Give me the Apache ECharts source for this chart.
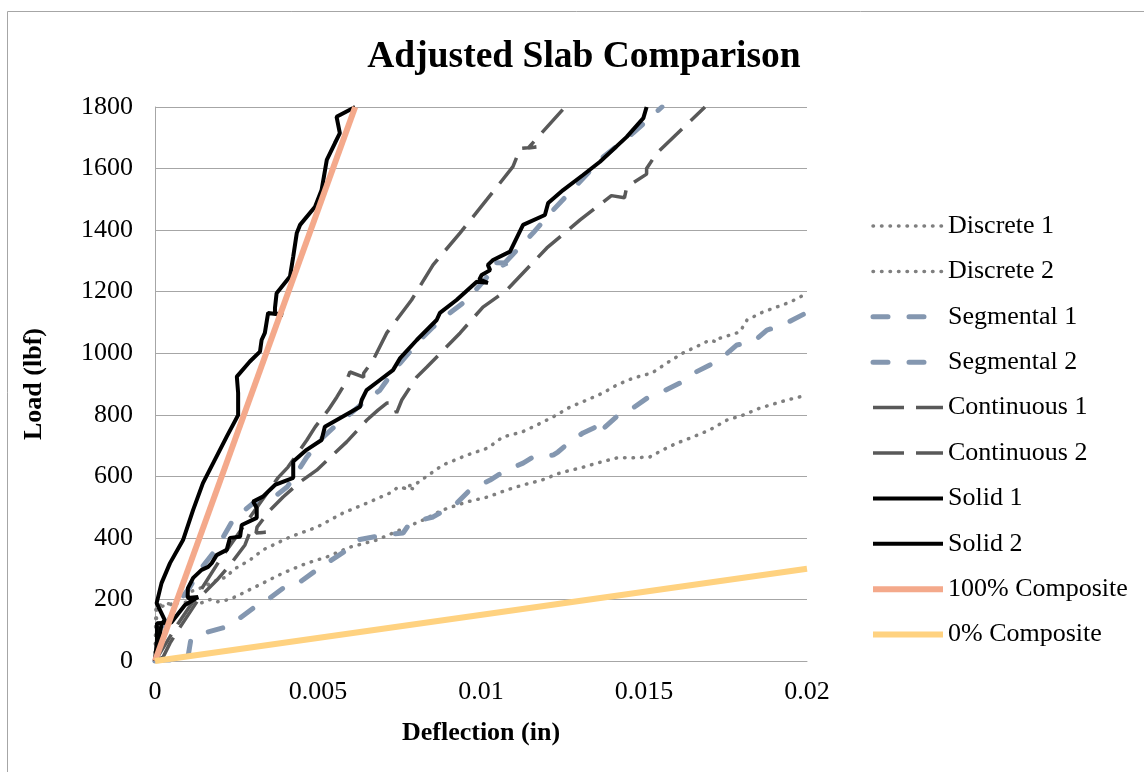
<!DOCTYPE html>
<html>
<head>
<meta charset="utf-8">
<script src="https://cdn.jsdelivr.net/npm/echarts@6/dist/echarts.min.js"></script>
<style>
html,body{margin:0;padding:0;background:#fff;}
#chart{width:1144px;height:772px;}
</style>
</head>
<body>
<div id="chart"></div>
<script>
// ---- data: [deflection (in), load (lbf)] ----
const seriesNames = ['Discrete 1','Discrete 2','Segmental 1','Segmental 2','Continuous 1','Continuous 2','Solid 1','Solid 2','100% Composite','0% Composite'];
const xTicks = [0, 0.005, 0.01, 0.015, 0.02];
const yTicks = [0, 200, 400, 600, 800, 1000, 1200, 1400, 1600, 1800];

const discrete1 = [[0,0],[0.00006,175],[0.00046,182],[0.00098,221],[0.00147,240],[0.0019,263],[0.0022,273],[0.00239,296],[0.00291,328],[0.00331,361],[0.00414,403],[0.00497,435],[0.00577,481],[0.0065,513],[0.00721,546],[0.00742,562],[0.0079,560],[0.0076,562],[0.00804,578],[0.00883,637],[0.00957,669],[0.01021,692],[0.01067,728],[0.01126,744],[0.01172,767],[0.01221,793],[0.01273,825],[0.01325,848],[0.01374,871],[0.01417,897],[0.01466,919],[0.01525,936],[0.0157,968],[0.0162,1001],[0.01672,1027],[0.01702,1043],[0.01724,1036],[0.01733,1049],[0.01794,1069],[0.01816,1108],[0.01865,1134],[0.01948,1166],[0.02003,1196]];

const discrete2 = [[0,0],[0.00003,180],[0.0004,186],[0.0009,190],[0.0012,196],[0.0014,188],[0.0017,200],[0.0019,192],[0.0022,198],[0.0025,210],[0.0027,221],[0.00331,253],[0.00393,286],[0.00466,318],[0.00527,338],[0.00598,370],[0.0068,393],[0.00752,426],[0.00822,458],[0.00883,491],[0.00957,517],[0.01021,533],[0.0108,556],[0.01129,572],[0.01187,588],[0.01242,611],[0.01304,627],[0.01356,643],[0.01417,660],[0.01466,660],[0.01518,663],[0.01558,686],[0.01601,708],[0.0165,728],[0.01702,751],[0.01755,783],[0.01804,799],[0.01856,822],[0.01939,848],[0.02,864]];

const segmental1 = [[0,0],[0.0003,3],[0.0010,5],[0.0011,70],[0.00147,90],[0.0022,111],[0.00252,133],[0.00322,188],[0.00353,205],[0.00414,253],[0.00445,257],[0.00496,296],[0.00589,361],[0.0062,393],[0.0070,409],[0.00761,416],[0.00782,448],[0.00853,468],[0.00926,513],[0.00966,556],[0.01028,588],[0.01067,614],[0.01129,643],[0.0116,663],[0.01221,669],[0.01236,679],[0.01273,712],[0.01313,741],[0.01365,767],[0.01386,745],[0.0138,760],[0.01417,795],[0.01466,822],[0.01509,854],[0.01549,871],[0.0161,903],[0.01641,929],[0.01702,962],[0.01742,988],[0.01785,1027],[0.01834,1036],[0.01877,1075],[0.01926,1092],[0.02003,1134]];

const segmental2 = [[0,0],[0.00015,78],[0.00037,123],[0.00077,198],[0.00107,240],[0.00138,296],[0.0019,367],[0.00239,458],[0.00301,513],[0.00353,523],[0.00405,565],[0.0042,588],[0.00466,663],[0.00506,718],[0.00546,757],[0.00638,838],[0.0069,880],[0.00712,913],[0.00752,968],[0.00813,1043],[0.00853,1085],[0.00905,1131],[0.00957,1173],[0.01037,1270],[0.0108,1293],[0.0103,1295],[0.0107,1290],[0.0116,1391],[0.01221,1465],[0.01279,1530],[0.01374,1637],[0.01466,1715],[0.01555,1800]];

const continuous1 = [[0,0],[0.0007,120],[0.0014,230],[0.0020,330],[0.0026,420],[0.0032,510],[0.00377,595],[0.00408,630],[0.00466,718],[0.00491,760],[0.00531,815],[0.00558,858],[0.00585,905],[0.00598,939],[0.0064,922],[0.0064,935],[0.00669,978],[0.00711,1066],[0.00787,1173],[0.00853,1287],[0.00936,1391],[0.01017,1498],[0.01098,1606],[0.0112,1665],[0.0117,1670],[0.01145,1667],[0.01258,1800]];

const continuous2 = [[0,0],[0.00025,13],[0.00046,58],[0.00077,110],[0.00138,208],[0.0019,263],[0.0023,312],[0.00276,377],[0.0029,415],[0.0034,418],[0.0031,416],[0.00313,435],[0.00353,490],[0.00393,533],[0.00445,582],[0.00496,620],[0.00588,712],[0.0065,783],[0.00684,815],[0.00711,838],[0.0073,838],[0.00741,806],[0.00757,848],[0.00803,923],[0.00834,955],[0.00936,1066],[0.01006,1150],[0.01079,1205],[0.01202,1342],[0.01304,1433],[0.0140,1512],[0.0144,1505],[0.01447,1540],[0.01508,1582],[0.01508,1600],[0.01539,1650],[0.01687,1800]];

const solid1 = [[0,0],[0.0001,50],[0.0002,120],[0.0003,133],[0.00005,188],[0.0002,253],[0.00046,318],[0.00086,393],[0.00117,491],[0.00147,578],[0.0022,729],[0.00255,799],[0.00255,871],[0.00251,924],[0.00291,973],[0.00322,1005],[0.00327,1043],[0.00337,1066],[0.00347,1131],[0.00393,1124],[0.00368,1130],[0.00368,1147],[0.00373,1195],[0.00414,1249],[0.00424,1314],[0.00435,1391],[0.00445,1417],[0.00491,1476],[0.00511,1530],[0.00527,1628],[0.00552,1683],[0.00567,1715],[0.00557,1768],[0.00614,1800]];

const solid2 = [[0,0],[0.00006,68],[0.00006,123],[0.0005,125],[0.00092,182],[0.00132,208],[0.0010,205],[0.00101,237],[0.00117,270],[0.00143,296],[0.00163,306],[0.00174,318],[0.00189,344],[0.0022,361],[0.0023,400],[0.00261,404],[0.00266,442],[0.00312,465],[0.00312,497],[0.00301,518],[0.00331,534],[0.00368,572],[0.00424,595],[0.00424,648],[0.00465,686],[0.00511,718],[0.00521,761],[0.00629,826],[0.00634,848],[0.00649,880],[0.0069,913],[0.0073,945],[0.00752,984],[0.00803,1043],[0.00864,1108],[0.00874,1131],[0.00925,1173],[0.00987,1232],[0.01021,1229],[0.00995,1240],[0.01002,1254],[0.01028,1270],[0.01021,1287],[0.01037,1303],[0.01089,1330],[0.01129,1417],[0.01196,1449],[0.01206,1488],[0.01252,1530],[0.01313,1579],[0.01365,1622],[0.01447,1703],[0.01498,1764],[0.01508,1800]];

const composite100 = [[0,0],[0.00614,1800]];
const composite0 = [[0,0],[0.02,300]];

const seriesData = [discrete1, discrete2, segmental1, segmental2, continuous1, continuous2, solid1, solid2, composite100, composite0];

// ---- styles ----
const FONT = 'Liberation Serif';
const dotted = {color:'#7F7F7F', width:3.5, type:[0.5,8], cap:'round'};
const seg = {color:'#8497B0', width:5, type:[15,21], cap:'round'};
const cont = {color:'#595959', width:3.5, type:[31,12], cap:'butt'};
const solid = {color:'#000000', width:4, type:'solid'};
const c100 = {color:'#F4A98B', width:6, type:'solid'};
const c0 = {color:'#FFD280', width:6, type:'solid'};
const styles = [dotted, dotted, seg, seg, cont, cont, solid, solid, c100, c0];

const chart = echarts.init(document.getElementById('chart'), null, {renderer:'canvas'});
chart.setOption({
  animation:false,
  backgroundColor:'#ffffff',
  graphic:[{type:'rect', shape:{x:7.5,y:11.5,width:1300,height:900}, style:{fill:'none', stroke:'#A6A6A6', lineWidth:1}, silent:true}],
  title:{
    text:'Adjusted Slab Comparison',
    left:579, top:33, textAlign:'center',
    textStyle:{fontFamily:FONT, fontSize:37.5, fontWeight:'bold', color:'#000'}
  },
  legend:{
    orient:'vertical', left:870, top:213, padding:0,
    itemWidth:70, itemHeight:14, itemGap:19.4,
    itemStyle:{opacity:0},
    data:seriesNames.map((n,i)=>({
      name:n,
      itemStyle:{opacity:0},
      lineStyle:{color:styles[i].color, width:styles[i].width, type:styles[i].type, cap:styles[i].cap || 'butt'}
    })),
    textStyle:{fontFamily:FONT, fontSize:26, color:'#000', lineHeight:26}
  },
  grid:{left:155, right:337, top:107, bottom:111, containLabel:false},
  xAxis:{
    type:'value', min:0, max:0.02, interval:0.005,
    name:'Deflection (in)', nameLocation:'middle', nameGap:59,
    nameTextStyle:{fontFamily:FONT, fontSize:26, fontWeight:'bold', color:'#000'},
    axisLine:{show:true, lineStyle:{color:'#A6A6A6', width:1}},
    axisTick:{show:false},
    splitLine:{show:false},
    axisLabel:{fontFamily:FONT, fontSize:26, color:'#000', margin:18,
      formatter:function(v){ return String(xTicks.find(t=>Math.abs(t-v)<1e-9) ?? v); }}
  },
  yAxis:{
    type:'value', min:0, max:1800, interval:200,
    name:'Load (lbf)', nameLocation:'middle', nameGap:108,
    nameTextStyle:{fontFamily:FONT, fontSize:26, fontWeight:'bold', color:'#000'},
    axisLine:{show:true, lineStyle:{color:'#A6A6A6', width:1}},
    axisTick:{show:false},
    splitLine:{show:true, lineStyle:{color:'#A6A6A6', width:1}},
    axisLabel:{fontFamily:FONT, fontSize:26, color:'#000', margin:22,
      formatter:function(v){ return String(yTicks.find(t=>t===v) ?? v); }}
  },
  series: seriesNames.map((n,i)=>({
    name:n, type:'line', data:seriesData[i],
    symbol:'none', showSymbol:false, smooth:false, clip:true,
    lineStyle:styles[i], itemStyle:{color:styles[i].color},
    emphasis:{disabled:true}, z:2+i
  }))
});
</script>
</body>
</html>
